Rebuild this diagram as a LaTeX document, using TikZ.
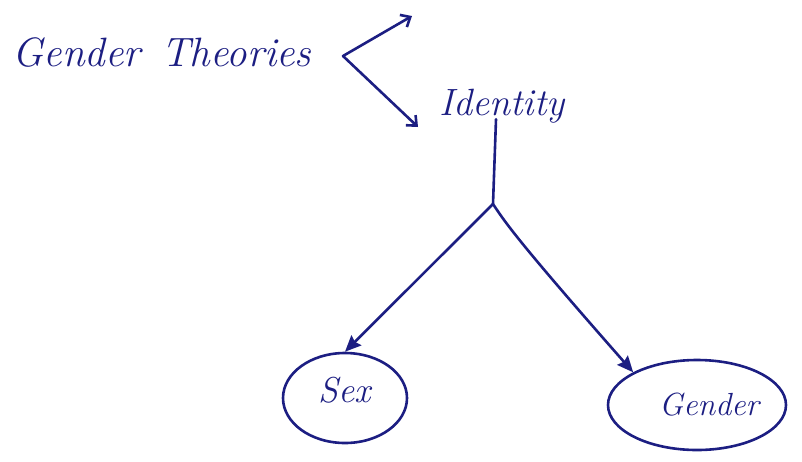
\documentclass[tikz,border=0pt]{standalone}
\usetikzlibrary{arrows.meta,shapes.geometric}
\definecolor{ink}{RGB}{28,30,130}
\begin{document}
\begin{tikzpicture}[x=1pt,y=-1pt,
  every node/.style={text=ink},
  pen/.style={draw=ink,line width=2.6pt,line cap=round,line join=round},
  handtext/.style={font=\itshape},
  bubble/.style={pen,ellipse},
  solidtip/.style={-{Stealth[length=16pt,width=14pt,inset=2pt]}}]
\useasboundingbox (0,0) rectangle (802,461);
\node[handtext,inner sep=0pt] (gt) at (162,52) {\fontsize{41}{46}\selectfont Gender\enspace Theories};
\node[handtext,inner sep=0pt] (id) at (502,106) {\fontsize{38}{44}\selectfont Identity};
\coordinate (v) at (343,56);
\coordinate (t) at (412,16);
\coordinate (l) at (418,127);
\coordinate (j) at (493,204);
\draw[pen,{Straight Barb[length=8pt,width=14pt,line width=2.6pt]}-{Straight Barb[length=8pt,width=14pt,line width=2.6pt]}] (t) -- (v) -- (l);
\node[bubble,minimum width=124pt,minimum height=90pt] (sex) at (345,398) {};
\node[handtext] at ([yshift=8pt]sex.center) {\fontsize{36}{40}\selectfont Sex};
\node[bubble,minimum width=178pt,minimum height=90pt] (gender) at (697,405) {};
\node[handtext] at ([xshift=12pt]gender.center) {\fontsize{32}{36}\selectfont Gender};
\draw[pen] ([xshift=-6pt,yshift=4pt]id.south) -- (j);
\draw[pen,solidtip] (j) -- (sex.north);
\draw[pen,solidtip] (j) .. controls (505,222) and (515,238) .. (gender.north west);
\end{tikzpicture}
\end{document}
